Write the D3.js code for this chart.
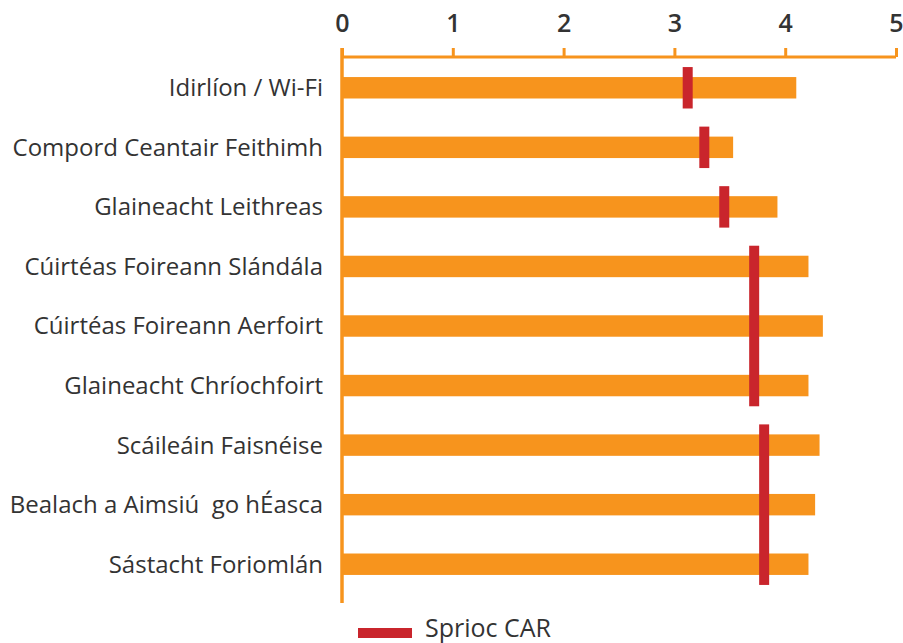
<!DOCTYPE html>
<html>
<head>
<meta charset="utf-8">
<script src="https://cdn.jsdelivr.net/npm/d3@7"></script>
<style>
  body { margin: 0; background: #fff; }
  text { font-family: "Open Sans", sans-serif; fill: #333; }
</style>
</head>
<body>
<div id="plot"></div>
<script>
// data
var categories = [
  "Idirlíon / Wi-Fi",
  "Compord Ceantair Feithimh",
  "Glaineacht Leithreas",
  "Cúirtéas Foireann Slándála",
  "Cúirtéas Foireann Aerfoirt",
  "Glaineacht Chríochfoirt",
  "Scáileáin Faisnéise",
  "Bealach a Aimsiú  go hÉasca",
  "Sástacht Foriomlán"
];
var scores = [4.10, 3.53, 3.93, 4.21, 4.34, 4.21, 4.31, 4.27, 4.21];
var targets = [3.12, 3.27, 3.45, 3.72, 3.72, 3.72, 3.81, 3.81, 3.81];
var xTicks = [0, 1, 2, 3, 4, 5];
var legendLabel = "Sprioc CAR";

var orange = "#f7941d";
var red = "#c9252c";

var width = 903, height = 643;
var left = 342, right = 896, axisY = 57, bottom = 603;

var svg = d3.select("div#plot").append("svg")
    .attr("width", width)
    .attr("height", height);

var x = d3.scaleLinear()
    .domain([0, 5])
    .range([left, right]);

var y = d3.scaleBand()
    .domain(categories)
    .range([58, 594])
    .paddingInner(0.64)
    .paddingOuter(0.32);

// bars
svg.selectAll(".bar")
    .data(categories)
    .enter().append("rect")
    .attr("class", "bar")
    .attr("x", x(0))
    .attr("y", d => y(d))
    .attr("width", (d, i) => x(scores[i]) - x(0))
    .attr("height", y.bandwidth())
    .attr("fill", orange);

// target markers - merge runs of equal target into one tall mark
var groups = [];
targets.forEach(function(t, i) {
  var g = groups[groups.length - 1];
  if (g && g.value === t) g.last = i;
  else groups.push({value: t, first: i, last: i});
});

svg.selectAll(".target")
    .data(groups)
    .enter().append("rect")
    .attr("class", "target")
    .attr("x", d => x(d.value) - 5)
    .attr("y", d => y(categories[d.first]) - 10)
    .attr("width", 10)
    .attr("height", d => y(categories[d.last]) + y.bandwidth() + 10 - (y(categories[d.first]) - 10))
    .attr("fill", red);

// top axis
var xAxis = svg.append("g")
    .attr("transform", "translate(0," + axisY + ")")
    .call(d3.axisTop(x).tickValues(xTicks).tickSize(9).tickPadding(16).tickFormat(d3.format("d")));
xAxis.select(".domain")
    .attr("d", "M" + x(0) + ",0H" + x(5))
    .attr("stroke", orange)
    .attr("stroke-width", 3);
xAxis.selectAll(".tick line")
    .attr("stroke", orange)
    .attr("stroke-width", 3);
xAxis.selectAll(".tick text")
    .style("font-family", "'Open Sans', sans-serif")
    .style("font-size", "25px")
    .style("font-weight", "600")
    .attr("fill", "#333");

// left axis line
svg.append("line")
    .attr("x1", x(0)).attr("x2", x(0))
    .attr("y1", axisY - 9).attr("y2", bottom)
    .attr("stroke", orange)
    .attr("stroke-width", 3.5);

// category labels
svg.selectAll(".cat")
    .data(categories)
    .enter().append("text")
    .attr("class", "cat")
    .attr("x", 323)
    .attr("y", d => y(d) + y.bandwidth() / 2)
    .attr("dy", "0.35em")
    .attr("text-anchor", "end")
    .style("font-size", "24px")
    .style("white-space", "pre")
    .text(d => d);

// legend
svg.append("rect")
    .attr("x", 358)
    .attr("y", 628)
    .attr("width", 54)
    .attr("height", 10)
    .attr("fill", red);

svg.append("text")
    .attr("x", 425)
    .attr("y", 637)
    .style("font-size", "25px")
    .text(legendLabel);
</script>
</body>
</html>
